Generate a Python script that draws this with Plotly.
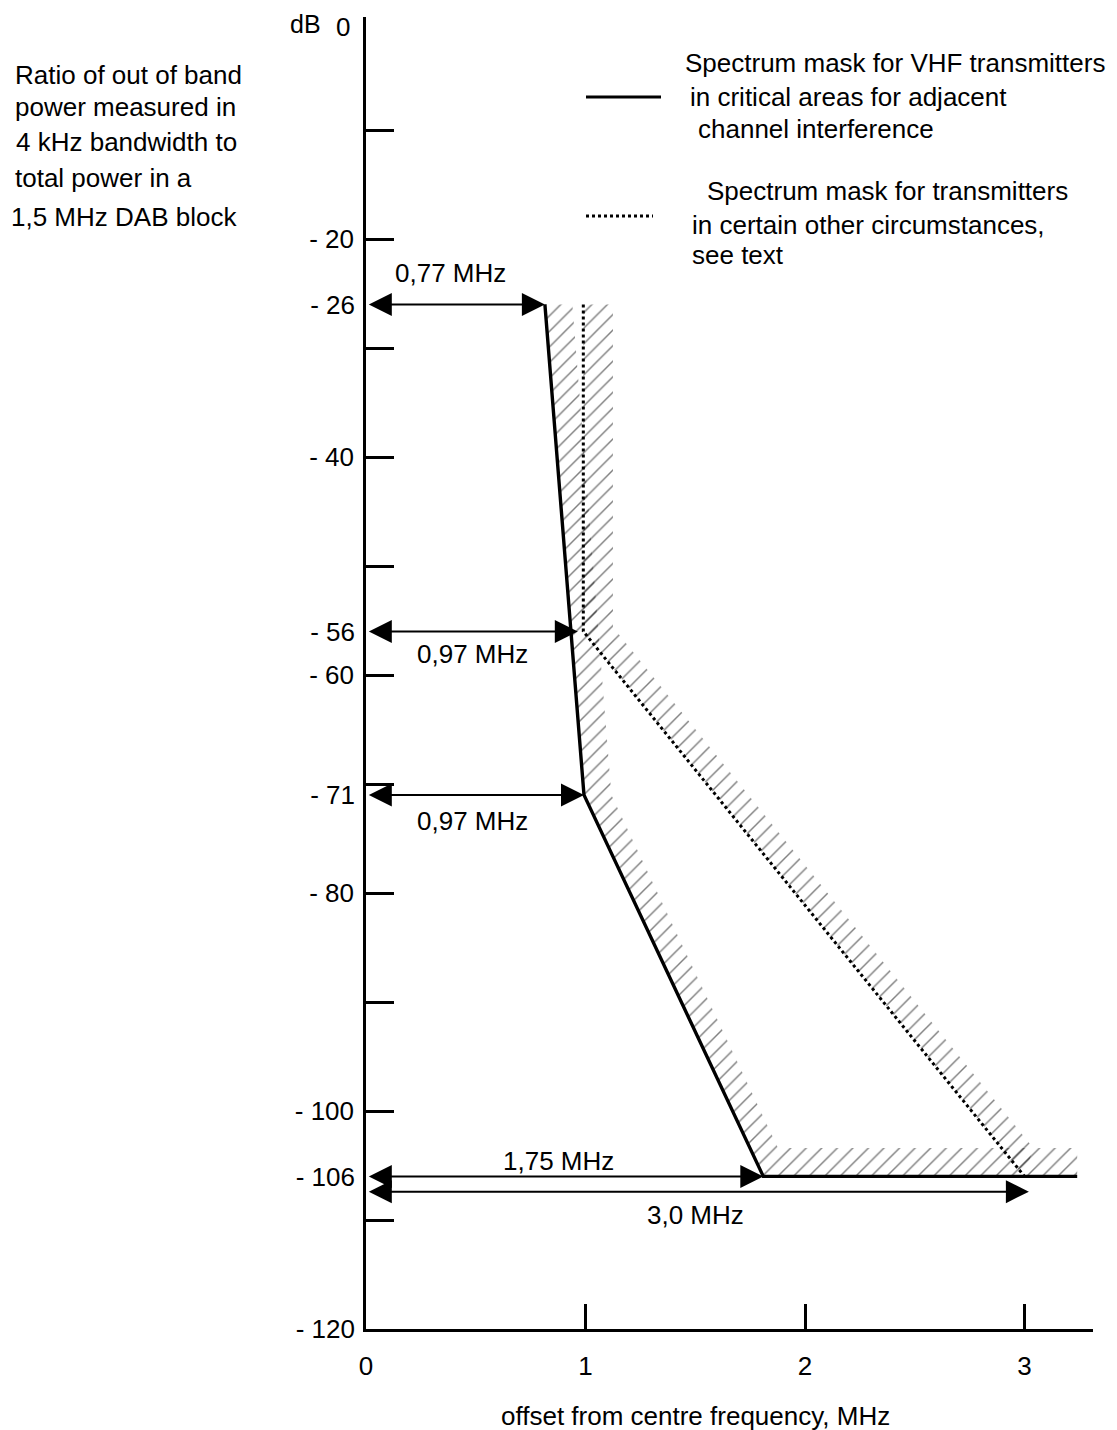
import plotly.graph_objects as go

# ---------------- data ----------------
# solid mask: VHF transmitters in critical areas
solid_x = [0.815, 0.993, 1.81, 3.24]
solid_y = [-26, -71, -106, -106]
# dotted mask: transmitters in certain other circumstances
dotted_x = [0.99, 0.99, 3.0]
dotted_y = [-26, -56, -106]
# hatched band beside the solid mask (outer edge)
band_a_edge_x = [0.94, 1.118, 1.877, 3.24]
band_a_edge_y = [-26, -71, -103.4, -103.4]
# hatched band beside the dotted mask (outer edge)
band_b_edge_x = [1.125, 1.125, 3.04]
band_b_edge_y = [-26, -55.6, -103.4]

# dimension arrows
arrow_y = [-26, -56, -71, -106, -107.4]
arrow_end = [0.815, 0.965, 0.993, 1.81, 3.02]
arrow_labels = ["0,77 MHz", "0,97 MHz", "0,97 MHz", "1,75 MHz", "3,0 MHz"]
arrow_label_x = [0.387, 0.483, 0.483, 0.875, 1.5]
arrow_label_y = [-23.1, -58.1, -73.4, -104.6, -109.5]

# axis ticks
y_tick_vals = [-10, -20, -30, -40, -50, -60, -70, -80, -90, -100, -110]
y_tick_text = ["", "- 20", "", "- 40", "", "- 60", "", "- 80", "", "- 100", ""]
y_extra_vals = [-26, -56, -71, -106, -120]
y_extra_text = ["- 26", "- 56", "- 71", "- 106", "- 120"]
y_top_label = "0"
x_tick_vals = [0, 1, 2, 3]
x_tick_text = ["0", "1", "2", "3"]

y_title_lines = ["Ratio of out of band", "power measured in", "4 kHz bandwidth to",
                 "total power in a", "1,5 MHz DAB block"]
legend_solid_lines = ["Spectrum mask for VHF transmitters", "in critical areas for adjacent",
                      "channel interference"]
legend_dotted_lines = ["Spectrum mask for transmitters", "in certain other circumstances,",
                       "see text"]
x_title = "offset from centre frequency, MHz"

# ---------------- layout geometry ----------------
# the page body adds an 8px margin, so the figure is drawn 8px smaller and
# all window positions below are converted with that offset
OFF = 8
W, H = 1117 - OFF, 1430 - OFF
PL, PT, PR, PB = 366, 17, 1093, 1329          # plot area in window pixels
L, T = PL - OFF, PT - OFF
R, B = W - (PR - OFF), H - (PB - OFF)
PW, PH = PR - PL, PB - PT
FONT = "Liberation Sans, Arial, sans-serif"
FS = 26


def px(xp):
    return (xp - PL) / PW


def py(yp):
    return (PB - yp) / PH


hatch = dict(shape="/", size=11, solidity=0.13, fgcolor="black",
             bgcolor="rgba(0,0,0,0)", fillmode="overlay")

fig = go.Figure()

# band A polygon: solid line then outer edge reversed
fig.add_trace(go.Scatter(
    x=solid_x + band_a_edge_x[::-1], y=solid_y + band_a_edge_y[::-1],
    mode="lines", fill="toself", fillcolor="rgba(0,0,0,0)", fillpattern=hatch,
    line=dict(width=0, color="rgba(0,0,0,0)"), hoverinfo="skip", showlegend=False))
# band B polygon: dotted line then outer edge reversed
fig.add_trace(go.Scatter(
    x=dotted_x + band_b_edge_x[::-1], y=dotted_y + band_b_edge_y[::-1],
    mode="lines", fill="toself", fillcolor="rgba(0,0,0,0)", fillpattern=hatch,
    line=dict(width=0, color="rgba(0,0,0,0)"), hoverinfo="skip", showlegend=False))

fig.add_trace(go.Scatter(x=dotted_x, y=dotted_y, mode="lines",
                         line=dict(color="black", width=3, dash="3px,3px"),
                         hoverinfo="skip", showlegend=False))
fig.add_trace(go.Scatter(x=solid_x, y=solid_y, mode="lines",
                         line=dict(color="black", width=3.4),
                         hoverinfo="skip", showlegend=False))
# invisible trace to bind the secondary label axis
fig.add_trace(go.Scatter(x=[0], y=[-60], yaxis="y2", mode="markers",
                         marker=dict(opacity=0), hoverinfo="skip", showlegend=False))

annotations = []
for ay, ax_end in zip(arrow_y, arrow_end):
    annotations.append(dict(
        x=ax_end, y=ay, ax=0.006, ay=ay, xref="x", yref="y", axref="x", ayref="y",
        text="", showarrow=True, arrowhead=2, startarrowhead=2, arrowside="end+start",
        arrowsize=2.3, startarrowsize=2.3, arrowwidth=2, arrowcolor="black",
        standoff=0, startstandoff=0))
for t, lx, ly in zip(arrow_labels, arrow_label_x, arrow_label_y):
    annotations.append(dict(x=lx, y=ly, xref="x", yref="y", text=t, showarrow=False,
                            font=dict(size=FS, color="black", family=FONT)))

# "0" label at the top of the dB axis
annotations.append(dict(x=px(352), y=py(27), xref="paper", yref="paper", text=y_top_label,
                        showarrow=False, xanchor="right", yanchor="middle",
                        font=dict(size=FS, color="black", family=FONT)))
# y title block (left)
title_pos = [(13, 75), (13, 107), (14, 142), (13, 178), (9, 217)]
for t, (xx, yy) in zip(y_title_lines, title_pos):
    annotations.append(dict(x=px(xx), y=py(yy), xref="paper", yref="paper", text=t,
                            showarrow=False, xanchor="left", yanchor="middle",
                            font=dict(size=FS, color="black", family=FONT)))
# dB unit
annotations.append(dict(x=px(305), y=py(24), xref="paper", yref="paper", text="dB",
                        showarrow=False, xanchor="center", yanchor="middle",
                        font=dict(size=FS - 1, color="black", family=FONT)))
# legend texts
leg1_pos = [(683, 63), (688, 97), (696, 129)]
for t, (xx, yy) in zip(legend_solid_lines, leg1_pos):
    annotations.append(dict(x=px(xx), y=py(yy), xref="paper", yref="paper", text=t,
                            showarrow=False, xanchor="left", yanchor="middle",
                            font=dict(size=FS, color="black", family=FONT)))
leg2_pos = [(705, 191), (690, 225), (690, 255)]
for t, (xx, yy) in zip(legend_dotted_lines, leg2_pos):
    annotations.append(dict(x=px(xx), y=py(yy), xref="paper", yref="paper", text=t,
                            showarrow=False, xanchor="left", yanchor="middle",
                            font=dict(size=FS, color="black", family=FONT)))
# x title
annotations.append(dict(x=px(695), y=py(1416), xref="paper", yref="paper", text=x_title,
                        showarrow=False, xanchor="center", yanchor="middle",
                        font=dict(size=FS, color="black", family=FONT)))

shapes = [
    dict(type="line", xref="paper", yref="paper", x0=px(586), x1=px(661),
         y0=py(97), y1=py(97), line=dict(color="black", width=3)),
    dict(type="line", xref="paper", yref="paper", x0=px(586), x1=px(653),
         y0=py(216), y1=py(216), line=dict(color="black", width=3, dash="3px,3px")),
]

fig.update_layout(
    width=W, height=H, margin=dict(l=L, r=R, t=T, b=B, pad=0),
    paper_bgcolor="white", plot_bgcolor="white",
    font=dict(family=FONT, size=FS, color="black"),
    showlegend=False,
    xaxis=dict(range=[0, 3.312], tickvals=x_tick_vals, ticktext=x_tick_text,
               ticks="inside", ticklen=25, tickwidth=3, tickcolor="black",
               showline=True, linecolor="black", linewidth=2.5, showgrid=False,
               zeroline=False, ticklabelstandoff=12, fixedrange=True),
    yaxis=dict(range=[-120, 0.37], tickvals=y_tick_vals, ticktext=y_tick_text,
               ticks="inside", ticklen=28, tickwidth=3, tickcolor="black",
               showline=True, linecolor="black", linewidth=2.5, showgrid=False,
               zeroline=False, ticklabelstandoff=4, fixedrange=True),
    yaxis2=dict(range=[-120, 0.37], overlaying="y", side="left", anchor="x",
                tickvals=y_extra_vals, ticktext=y_extra_text, ticks="",
                showline=False, showgrid=False, zeroline=False,
                ticklabelstandoff=10, fixedrange=True),
    annotations=annotations, shapes=shapes,
)

fig.write_html("out.html")
